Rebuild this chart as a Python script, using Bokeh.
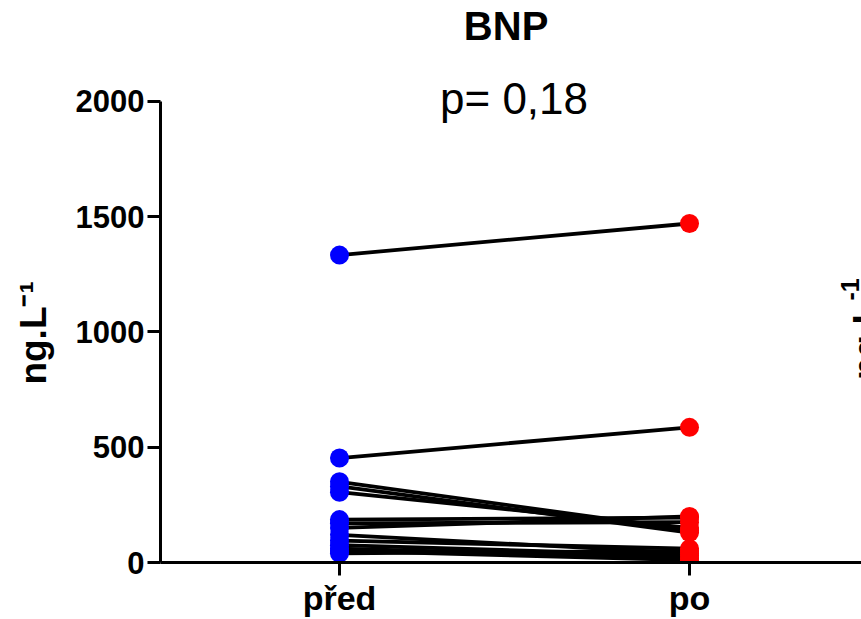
from bokeh.plotting import figure
from bokeh.models import Range1d, FixedTicker, Label, ColumnDataSource
from bokeh.embed import file_html
from bokeh.resources import INLINE
import math

# ---- data ----
groups = ["před", "po"]
pred = [1333, 453, 350, 330, 305, 186, 170, 150, 120, 95, 75, 60, 50, 40]
po = [1470, 586, 140, 130, 150, 195, 175, 200, 40, 60, 30, 20, 10, 50]
y_ticks = [0, 500, 1000, 1500, 2000]
y_max = 2000
title_text = "BNP"
p_text = "p= 0,18"
unit_label = "ng.L\u207b\u00b9"
unit_main = "ng.L"
unit_sup = "-1"

FONT = "Liberation Sans"

x_start, x_end = -0.5114, 1.4914
p = figure(width=861, height=619, output_backend="svg", toolbar_location=None,
           x_range=Range1d(x_start, x_end), y_range=Range1d(0, 2437),
           min_border_left=160, min_border_right=0, min_border_top=0,
           min_border_bottom=56)
p.outline_line_color = None
p.xgrid.visible = False
p.ygrid.visible = False
p.background_fill_color = "white"
p.border_fill_color = "white"

# lines connecting pairs
xs = [[0, 1] for _ in pred]
ys = [[a, b] for a, b in zip(pred, po)]
p.multi_line(xs=xs, ys=ys, line_color="black", line_width=3.8)

src_pred = ColumnDataSource(dict(x=[0] * len(pred), y=pred))
src_po = ColumnDataSource(dict(x=[1] * len(po), y=po))
p.scatter("x", "y", source=src_pred, size=19, fill_color="#0000FF", line_color=None)
p.scatter("x", "y", source=src_po, size=19, fill_color="#FF0000", line_color=None)

# y axis
ya = p.yaxis[0]
ya.bounds = (0, y_max)
ya.ticker = FixedTicker(ticks=y_ticks)
ya.axis_line_width = 3
ya.major_tick_line_width = 3
ya.major_tick_out = 13
ya.major_tick_in = 0
ya.minor_tick_line_color = None
ya.major_label_standoff = 3
ya.major_label_text_font = FONT
ya.major_label_text_font_style = "bold"
ya.major_label_text_font_size = "31px"
ya.major_label_text_color = "black"
# trailing no-break spaces shift the centred label down to the 0-2000 span
ya.axis_label = unit_label + "\u00a0" * 10
ya.axis_label_text_font = FONT
ya.axis_label_text_font_style = "bold"
ya.axis_label_text_font_size = "37px"
ya.axis_label_text_color = "black"
ya.axis_label_standoff = 19

# x axis
xa = p.xaxis[0]
xa.ticker = FixedTicker(ticks=list(range(len(groups))))
xa.major_label_overrides = {i: g for i, g in enumerate(groups)}
xa.axis_line_width = 3
xa.major_tick_line_width = 3
xa.major_tick_out = 13
xa.major_tick_in = 0
xa.minor_tick_line_color = None
xa.major_label_standoff = 3
xa.major_label_text_font = FONT
xa.major_label_text_font_style = "bold"
xa.major_label_text_font_size = "34px"
xa.major_label_text_color = "black"

# titles
p.add_layout(Label(x=0.476, y=y_max, y_offset=75, text=title_text,
                   text_align="center", text_baseline="alphabetic",
                   text_font=FONT, text_font_style="bold",
                   text_font_size="40px", text_color="black"))
p.add_layout(Label(x=0.4986, y=y_max, y_offset=3, text=p_text,
                   text_align="center", text_baseline="alphabetic",
                   text_font=FONT, text_font_size="44px", text_color="black"))

# partial y label of the neighbouring chart at the right edge
p.add_layout(Label(x=x_start, y=0, x_offset=706, y_offset=221.5,
                   text=unit_main, angle=math.pi / 2, text_align="center",
                   text_baseline="alphabetic", text_font=FONT,
                   text_font_style="bold", text_font_size="37px",
                   text_color="black"))
p.add_layout(Label(x=x_start, y=0, x_offset=689, y_offset=262,
                   text=unit_sup, angle=math.pi / 2, text_align="left",
                   text_baseline="alphabetic", text_font=FONT,
                   text_font_style="bold", text_font_size="25px",
                   text_color="black"))

open("out.html", "w").write(file_html(p, INLINE))
